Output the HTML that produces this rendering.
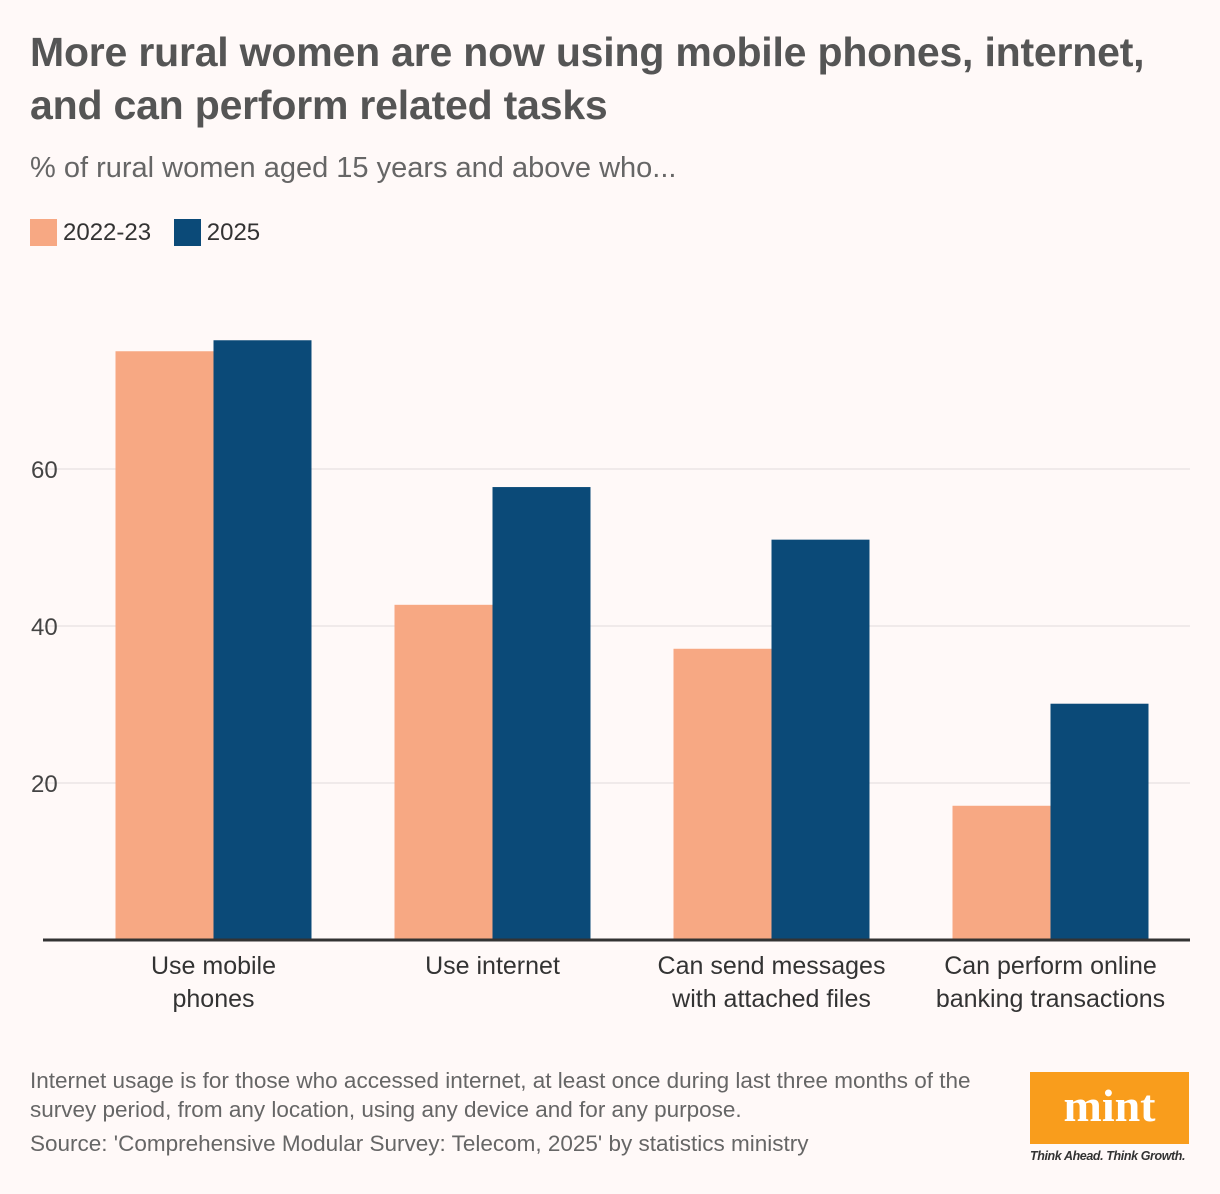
<!DOCTYPE html>
<html><head><meta charset="utf-8"><style>
body{margin:0;background:#fff9f8;width:1220px;height:1194px;overflow:hidden;font-family:"Liberation Sans",sans-serif;position:relative}
.t{position:absolute;margin:0}
</style></head><body>
<h1 class="t" style="left:30px;top:26px;font-size:41px;line-height:53px;font-weight:bold;color:#555;letter-spacing:-0.2px;white-space:nowrap">More rural women are now using mobile phones, internet,<br>and can perform related tasks</h1>
<div class="t" style="left:30px;top:152px;font-size:29px;color:#666">% of rural women aged 15 years and above who...</div>
<div class="t" style="left:30px;top:219px;font-size:24px;color:#333">
<span><span style="display:inline-block;width:27px;height:27px;background:#f7a883;vertical-align:-6px;margin-right:6px"></span>2022-23</span>
<span style="margin-left:16px"><span style="display:inline-block;width:27px;height:27px;background:#0b4a78;vertical-align:-6px;margin-right:6px"></span>2025</span>
</div>
<svg id="chart" width="1220" height="1040" style="position:absolute;left:0;top:0"></svg>
<div class="t" style="left:30px;top:1066px;font-size:22.5px;line-height:29px;color:#666;white-space:nowrap">Internet usage is for those who accessed internet, at least once during last three months of the<br>survey period, from any location, using any device and for any purpose.</div>
<div class="t" style="left:30px;top:1131px;font-size:22.5px;color:#666;white-space:nowrap">Source: 'Comprehensive Modular Survey: Telecom, 2025' by statistics ministry</div>
<div class="t" style="left:1030px;top:1072px;width:159px;height:72px;background:#f99d1c;color:#fff;font-family:'Liberation Serif',serif;font-weight:bold;font-size:46px;text-align:center;line-height:68px">mint</div>
<div class="t" style="left:1030px;top:1149px;width:162px;font-size:12.5px;font-style:italic;font-weight:bold;color:#333;letter-spacing:-0.4px">Think Ahead. Think Growth.</div>
<script>
const categories=[["Use mobile","phones"],["Use internet"],["Can send messages","with attached files"],["Can perform online","banking transactions"]];
const series2022=[75.0,42.7,37.1,17.1];
const series2025=[76.4,57.7,51.0,30.1];
const yTicks=[20,40,60];
const ns="http://www.w3.org/2000/svg",svg=document.getElementById('chart');
const plotL=74,plotR=1190,y0=940,pxPer=7.85;
const y=v=>y0-v*pxPer;
const band=(plotR-plotL)/categories.length;
const xc=i=>plotL+band*(i+0.5);
const bw=98;
function mk(t,a){const e=document.createElementNS(ns,t);for(const k in a)e.setAttribute(k,a[k]);svg.appendChild(e);return e;}
yTicks.forEach(v=>{
const g=mk('line',{x1:43,x2:1190,y1:y(v),y2:y(v),stroke:'#e0dcdb','stroke-width':1});


const t=mk('text',{x:31,y:y(v)+9,'font-size':24,fill:'#444','font-family':'Liberation Sans'});t.textContent=v;


});
categories.forEach((c,i)=>{
const a=mk('rect',{x:xc(i)-bw,y:y(series2022[i]),width:bw,height:series2022[i]*pxPer,fill:'#f7a883'});


const b=mk('rect',{x:xc(i),y:y(series2025[i]),width:bw,height:series2025[i]*pxPer,fill:'#0b4a78'});


c.forEach((ln,j)=>{const t=mk('text',{x:xc(i),y:974+j*33,'text-anchor':'middle','font-size':25,fill:'#333','font-family':'Liberation Sans'});t.textContent=ln;

});
});
const ax=mk('line',{x1:43,x2:1190,y1:y0,y2:y0,stroke:'#333','stroke-width':3});


</script>
</body></html>
